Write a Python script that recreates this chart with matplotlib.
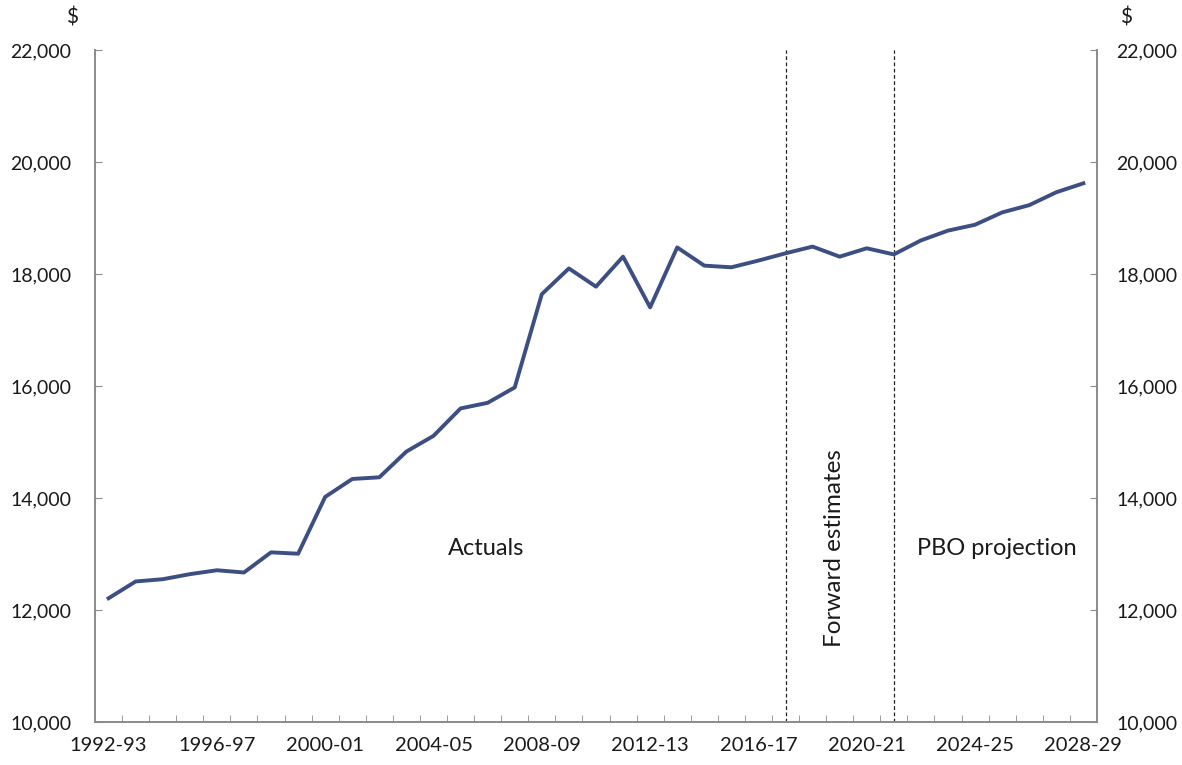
import matplotlib
matplotlib.use("Agg")
import matplotlib.pyplot as plt
from matplotlib.ticker import FuncFormatter, FixedLocator

plt.rcParams['font.family'] = ['Lato', 'DejaVu Sans']

# financial years 1992-93 .. 2028-29
years = [f"{y}-{str(y + 1)[-2:]}" for y in range(1992, 2029)]

values = [12210, 12510, 12550, 12640, 12710, 12670, 13030, 13005, 14020, 14340,
          14370, 14830, 15110, 15600, 15700, 15975, 17640, 18100, 17775, 18310,
          17405, 18475, 18150, 18120, 18240, 18370, 18490, 18310, 18460, 18350,
          18600, 18775, 18880, 19100, 19230, 19460, 19620]

# boundaries between the three periods
split_years = ["2017-18", "2021-22"]
region_labels = ["Actuals", "Forward estimates", "PBO projection"]

line_color = "#3C4E82"
spine_color = "#8C8C8C"
text_color = "#1a1a1a"

fig = plt.figure(figsize=(11.82, 7.65), dpi=100)
ax = fig.add_axes([0.0804, 0.0562, 0.8476, 0.8784])

x = list(range(len(years)))
ax.plot(x, values, color=line_color, lw=2.8, zorder=3)

for s in split_years:
    ax.axvline(years.index(s), color="#222222", lw=0.9, ls=(0, (3, 2)), zorder=2)

ax.set_xlim(-0.5, len(years) - 0.5)
ax.set_ylim(10000, 22000)

yfmt = FuncFormatter(lambda v, p: f"{int(v):,}")
yticks = range(10000, 22001, 2000)

# left y axis
ax.set_yticks(yticks)
ax.yaxis.set_major_formatter(yfmt)
ax.tick_params(axis="y", direction="in", length=5, color=spine_color,
               labelsize=14, labelcolor=text_color, pad=17)

# right y axis (same scale)
ax2 = ax.twinx()
ax2.set_ylim(ax.get_ylim())
ax2.set_yticks(yticks)
ax2.yaxis.set_major_formatter(yfmt)
ax2.tick_params(axis="y", direction="in", length=5, color=spine_color,
                labelsize=14, labelcolor=text_color, pad=14)

# x axis: labels every fourth year, tick marks between categories
ax.set_xticks(x[::4])
ax.set_xticklabels(years[::4])
ax.xaxis.set_minor_locator(FixedLocator([i + 0.5 for i in range(len(years) - 1)]))
ax.tick_params(axis="x", which="major", length=0, labelsize=14.5,
               labelcolor=text_color, pad=11)
ax.tick_params(axis="x", which="minor", direction="in", length=5,
               color=spine_color)

for a in (ax, ax2):
    a.spines["top"].set_visible(False)
    for side in ["left", "right", "bottom"]:
        a.spines[side].set_color(spine_color)
        a.spines[side].set_linewidth(1.3)

# "$" units above both axes
fig.text(72 / 1182, 1 - 18 / 765, "$", ha="center", va="center",
         fontsize=15, color=text_color)
fig.text(1126 / 1182, 1 - 18 / 765, "$", ha="center", va="center",
         fontsize=15, color=text_color)

# period labels
ax.text(13.95, 13100, region_labels[0], ha="center", va="center",
        fontsize=17, color=text_color)
ax.text(26.8, 13100, region_labels[1], ha="center", va="center",
        rotation=90, fontsize=17.5, color=text_color)
ax.text(32.8, 13100, region_labels[2], ha="center", va="center",
        fontsize=17, color=text_color)

fig.savefig("out.png", dpi=100)
